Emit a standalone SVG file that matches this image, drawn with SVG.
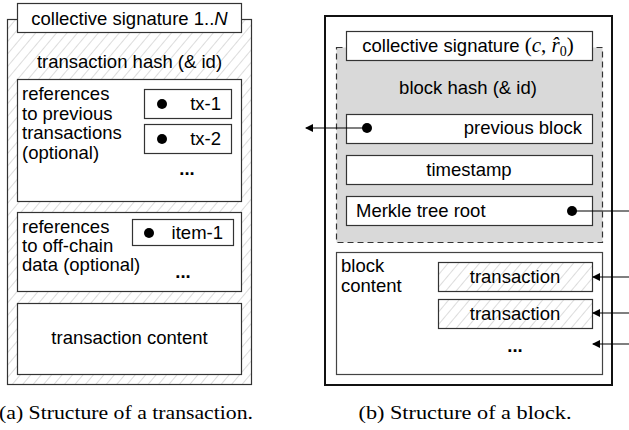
<svg xmlns="http://www.w3.org/2000/svg" width="629" height="430" viewBox="0 0 629 430">
<defs>
<pattern id="hatch" width="8" height="8" patternUnits="userSpaceOnUse" patternTransform="rotate(40)">
<rect width="8" height="8" fill="#fff"/>
<line x1="0" y1="0" x2="0" y2="8" stroke="#d4d4d4" stroke-width="1.6"/>
</pattern>
<marker id="ah" viewBox="0 0 8 8" refX="7" refY="4" markerWidth="8" markerHeight="8" markerUnits="userSpaceOnUse" orient="auto">
<path d="M0,0 L8,4 L0,8 Z" fill="#000"/>
</marker>
</defs>
<style>
text{font-family:"Liberation Sans",Arial,sans-serif;font-size:18.5px;fill:#000}
.c{text-anchor:middle}
.e{text-anchor:end}
.box{fill:#fff;stroke:#333;stroke-width:1.2}
.hb{fill:url(#hatch);stroke:#333;stroke-width:1.2}
.cap{font-family:"Liberation Serif","Times New Roman",serif;font-size:19px}
.m{font-family:"Liberation Serif","Times New Roman",serif;font-style:italic;font-size:21px}
.ln{stroke:#000;stroke-width:1.2;fill:none}
</style>
<rect width="629" height="430" fill="#fff"/>

<!-- (a) transaction -->
<g id="tx-outer">
<rect class="hb" x="7.5" y="19.5" width="244" height="365"/>
</g>
<g id="tx-sig">
<rect class="box" x="17.5" y="3.5" width="224" height="29"/>
<text class="c" x="129.5" y="25">collective signature 1..<tspan font-style="italic">N</tspan></text>
</g>
<g id="tx-hash">
<text class="c" x="129.5" y="68">transaction hash (&amp; id)</text>
</g>
<g id="tx-refs">
<rect class="box" x="17.5" y="79.5" width="224" height="122"/>
<text x="22" y="100">references</text>
<text x="22" y="119.5">to previous</text>
<text x="22" y="139">transactions</text>
<text x="22" y="158.5">(optional)</text>
<text class="c" x="187" y="175" font-weight="bold">...</text>
</g>
<g id="tx-1">
<rect class="box" x="144.5" y="89.5" width="87" height="29"/>
<circle cx="162" cy="104" r="5"/>
<text class="e" x="221" y="110">tx-1</text>
</g>
<g id="tx-2">
<rect class="box" x="144.5" y="124.5" width="87" height="29"/>
<circle cx="162" cy="139" r="5"/>
<text class="e" x="221" y="145">tx-2</text>
</g>
<g id="tx-offchain">
<rect class="box" x="17.5" y="212.5" width="224" height="79"/>
<text x="22" y="233">references</text>
<text x="22" y="252">to off-chain</text>
<text x="22" y="271">data (optional)</text>
<text class="c" x="183" y="278" font-weight="bold">...</text>
</g>
<g id="item-1">
<rect class="box" x="132.5" y="219.5" width="101" height="26"/>
<circle cx="149" cy="233" r="5"/>
<text class="e" x="223" y="239">item-1</text>
</g>
<g id="tx-content">
<rect class="box" x="17.5" y="303.5" width="224" height="71"/>
<text class="c" x="129.5" y="344">transaction content</text>
</g>
<text class="cap" x="-1" y="419" textLength="254" lengthAdjust="spacingAndGlyphs">(a) Structure of a transaction.</text>

<!-- (b) block -->
<g id="blk-outer">
<rect x="325" y="16" width="287" height="369" fill="#fff" stroke="#111" stroke-width="2"/>
</g>
<g id="blk-header">
<rect x="336.5" y="47.5" width="266" height="195" fill="#d9d9d9" stroke="#333" stroke-width="1.2" stroke-dasharray="6,4"/>
<text class="c" x="468" y="94">block hash (&amp; id)</text>
</g>
<g id="blk-sig">
<rect class="box" x="346.5" y="31.5" width="246" height="29"/>
<text class="c" x="468" y="52">collective signature <tspan font-family="Liberation Serif,serif" font-size="21">(</tspan><tspan class="m">c</tspan><tspan font-family="Liberation Serif,serif" font-size="21">, </tspan><tspan class="m">r̂</tspan><tspan font-family="Liberation Serif,serif" font-size="14" dy="4">0</tspan><tspan font-family="Liberation Serif,serif" font-size="21" dy="-4">)</tspan></text>
</g>
<g id="blk-prev">
<rect class="box" x="346.5" y="114.5" width="246" height="29"/>
<text class="e" x="582" y="134">previous block</text>
</g>
<g id="blk-time">
<rect class="box" x="346.5" y="155.5" width="246" height="29"/>
<text class="c" x="469" y="176">timestamp</text>
</g>
<g id="blk-merkle">
<rect class="box" x="346.5" y="196.5" width="246" height="29"/>
<text x="356" y="217">Merkle tree root</text>
</g>
<g id="blk-content">
<rect x="336.5" y="252.5" width="266" height="122" fill="#fff" stroke="#444" stroke-width="1.2"/>
<text x="341" y="272">block</text>
<text x="341" y="292">content</text>
<text class="c" x="515" y="352" font-weight="bold">...</text>
</g>
<g id="blk-tx1">
<rect class="hb" x="438.5" y="262.5" width="154" height="29"/>
<text class="c" x="515" y="283">transaction</text>
</g>
<g id="blk-tx2">
<rect class="hb" x="438.5" y="299.5" width="154" height="29"/>
<text class="c" x="515" y="320">transaction</text>
</g>
<text class="cap c" x="465" y="419" textLength="213" lengthAdjust="spacingAndGlyphs">(b) Structure of a block.</text>

<g id="connectors">
<line class="ln" x1="367" y1="128" x2="306" y2="128" marker-end="url(#ah)"/>
<circle cx="367" cy="128" r="5"/>
<line class="ln" x1="572" y1="211" x2="629" y2="211"/>
<circle cx="572" cy="211" r="5"/>
<line class="ln" x1="629" y1="277" x2="593" y2="277" marker-end="url(#ah)"/>
<line class="ln" x1="629" y1="313" x2="593" y2="313" marker-end="url(#ah)"/>
<line class="ln" x1="629" y1="344" x2="593" y2="344" marker-end="url(#ah)"/>
</g>
</svg>
